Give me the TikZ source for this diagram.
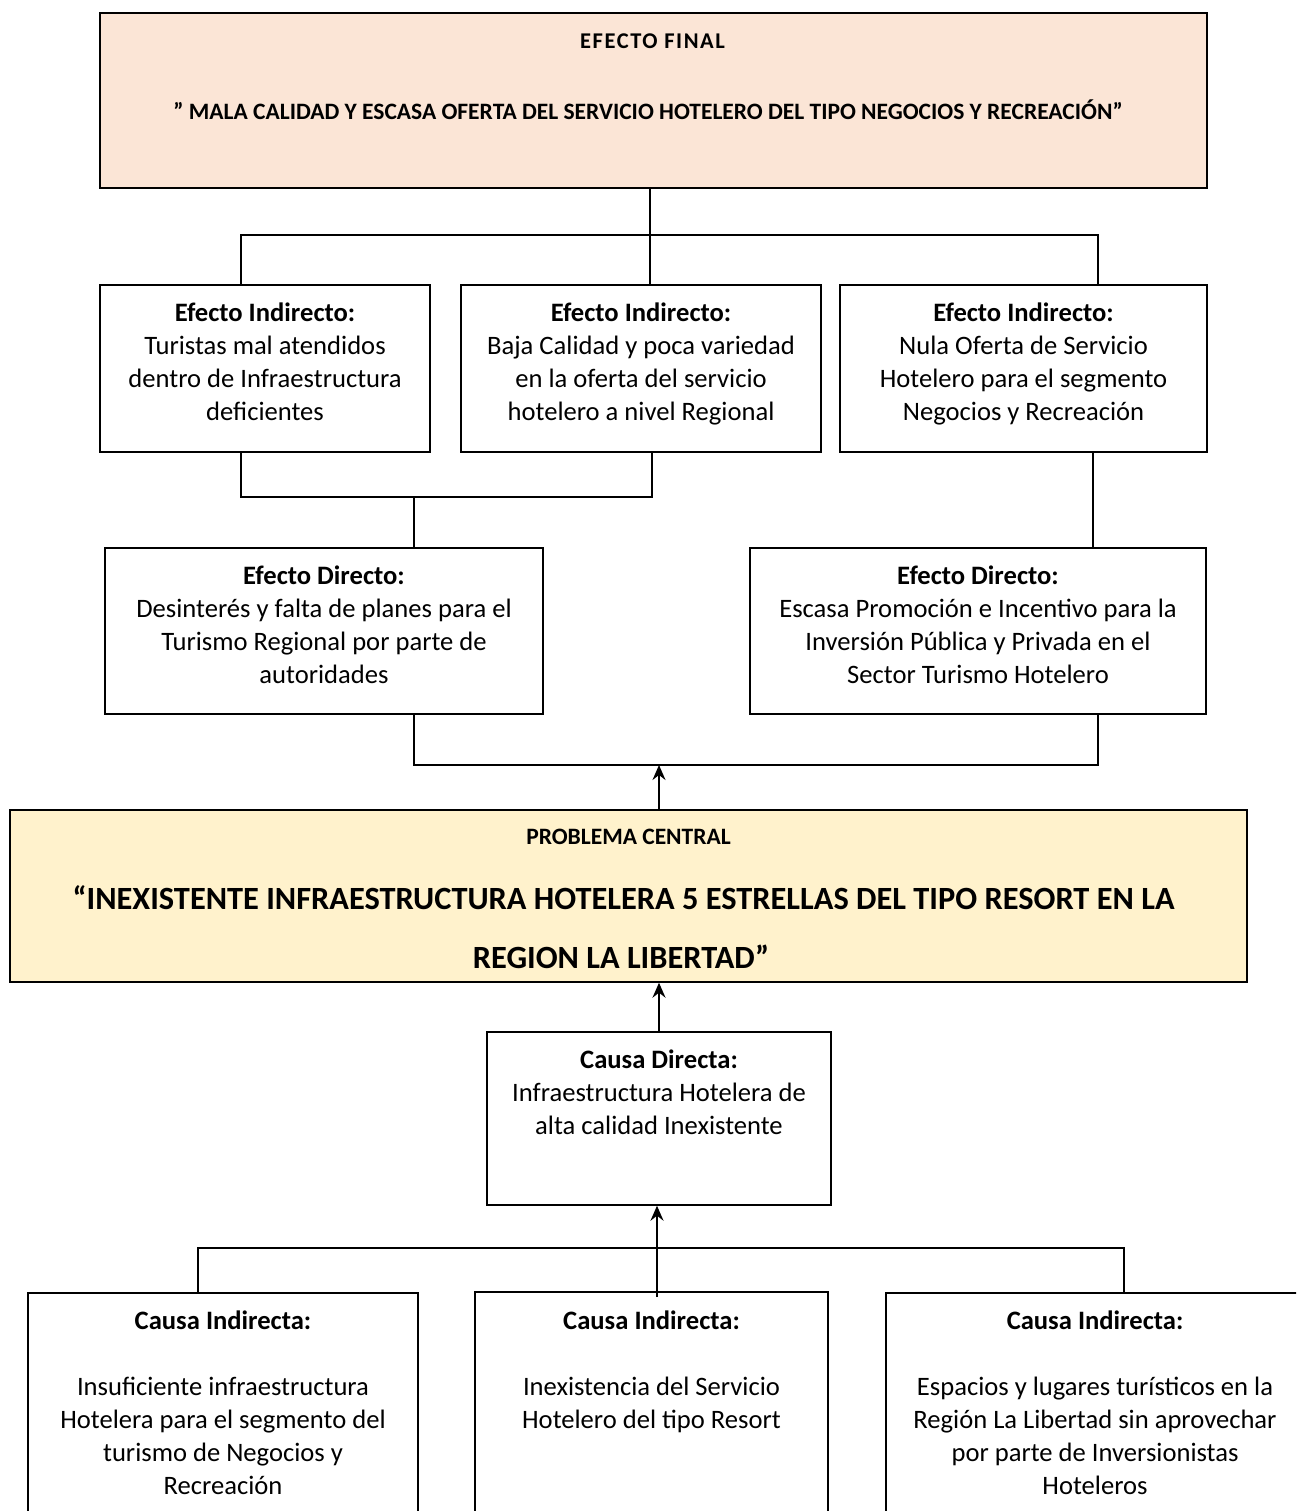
\documentclass[tikz,border=0pt]{standalone}
\usepackage{fontspec}
\setmainfont{Carlito}
\usetikzlibrary{arrows.meta}
\definecolor{peach}{HTML}{FBE5D6}
\definecolor{cream}{HTML}{FFF2CC}
\begin{document}
\begin{tikzpicture}[x=1pt,y=-1pt,
  box/.style={draw, line width=1.4pt, inner sep=0pt},
  body/.style={align=center, inner sep=0pt, anchor=north, font=\fontsize{26.6}{33}\selectfont},
  single/.style={inner sep=0pt, anchor=base},
  conn/.style={line width=1.3pt},
  arr/.style={line width=1.8pt, -{Stealth[length=15pt,width=13pt,inset=5pt]}}]
\useasboundingbox (0,0) rectangle (1296,1511);

% Efecto final
\node[box, fill=peach, line width=2pt, minimum width=1107pt, minimum height=175pt] (ef) at (653.5,100.5) {};
\node[single, font=\fontsize{22.5}{26}\selectfont\bfseries\addfontfeature{LetterSpace=7}] (eft1) at (652.5,49) {EFECTO FINAL};
\node[single, font=\fontsize{23.5}{28}\selectfont\bfseries] (eft2) at (648,120) {” MALA CALIDAD Y ESCASA OFERTA DEL SERVICIO HOTELERO DEL TIPO NEGOCIOS Y RECREACIÓN”};

% Efectos indirectos
\node[box, minimum width=330pt, minimum height=167pt] (ei1) at (265,368.5) {};
\node[body] (ei1t) at (265,297.9) {\strut\textbf{Efecto Indirecto:}\\Turistas mal atendidos\\dentro de Infraestructura\\deficientes};
\node[box, minimum width=360pt, minimum height=167pt] (ei2) at (641,368.5) {};
\node[body] (ei2t) at (641,297.9) {\strut\textbf{Efecto Indirecto:}\\Baja Calidad y poca variedad\\en la oferta del servicio\\hotelero a nivel Regional};
\node[box, minimum width=367pt, minimum height=167pt] (ei3) at (1023.5,368.5) {};
\node[body] (ei3t) at (1023.5,297.9) {\strut\textbf{Efecto Indirecto:}\\Nula Oferta de Servicio\\Hotelero para el segmento\\Negocios y Recreación};

% Efectos directos
\node[box, minimum width=438pt, minimum height=166pt] (ed1) at (324,631) {};
\node[body] (ed1t) at (324,560.9) {\strut\textbf{Efecto Directo:}\\Desinterés y falta de planes para el\\Turismo Regional por parte de\\autoridades};
\node[box, minimum width=456pt, minimum height=166pt] (ed2) at (978,631) {};
\node[body] (ed2t) at (978,560.9) {\strut\textbf{Efecto Directo:}\\Escasa Promoción e Incentivo para la\\Inversión Pública y Privada en el\\Sector Turismo Hotelero};

% Problema central
\node[box, fill=cream, minimum width=1237pt, minimum height=172pt] (pc) at (628.5,896) {};
\node[single, font=\fontsize{23.5}{28}\selectfont\bfseries] (pct1) at (628.5,844) {PROBLEMA CENTRAL};
\node[single, font=\fontsize{32.4}{38}\selectfont\bfseries] (pct2) at (623.5,909) {“INEXISTENTE INFRAESTRUCTURA HOTELERA 5 ESTRELLAS DEL TIPO RESORT EN LA};
\node[single, font=\fontsize{32.4}{38}\selectfont\bfseries] (pct3) at (621,968) {REGION LA LIBERTAD”};

% Causa directa
\node[box, minimum width=344pt, minimum height=173pt] (cd) at (659,1118.5) {};
\node[body] (cdt) at (659,1044.9) {\strut\textbf{Causa Directa:}\\Infraestructura Hotelera de\\alta calidad Inexistente};

% Causas indirectas (cut by the page edge)
\begin{scope}
\clip (0,0) rectangle (1296,1511);
\node[box, minimum width=390pt, minimum height=247pt] (ci1) at (223,1416.5) {};
\node[box, line width=2pt, minimum width=353pt, minimum height=247pt] (ci2) at (651.5,1415.5) {};
\node[box, minimum width=418pt, minimum height=247pt] (ci3) at (1095,1416.5) {};
\end{scope}
\node[body] (ci1t) at (223,1305.9) {\strut\textbf{Causa Indirecta:}\\[33pt]Insuficiente infraestructura\\Hotelera para el segmento del\\turismo de Negocios y\\Recreación};
\node[body] (ci2t) at (651.5,1305.9) {\strut\textbf{Causa Indirecta:}\\[33pt]Inexistencia del Servicio\\Hotelero del tipo Resort};
\node[body] (ci3t) at (1095,1305.9) {\strut\textbf{Causa Indirecta:}\\[33pt]Espacios y lugares turísticos en la\\Región La Libertad sin aprovechar\\por parte de Inversionistas\\Hoteleros};

% Connectors: top
\coordinate (jt) at (650,235);
\coordinate (jtl) at (241,235);
\coordinate (jtr) at (1098,235);
\draw[conn] (ef.south -| jt) -- (jt);
\draw[conn] (ei1.north -| jtl) -- (jtl) -- (jtr) -- (ei3.north -| jtr);
\draw[conn] (jt) -- (ei2.north -| jt);

% Connectors: middle
\coordinate (jm) at (414,497);
\coordinate (jml) at (241,497);
\coordinate (jmr) at (652,497);
\draw[conn] (ei1.south -| jml) -- (jml) -- (jmr) -- (ei2.south -| jmr);
\draw[conn] (jm) -- (ed1.north -| jm);
\coordinate (x3) at (1093,450);
\draw[conn] (ei3.south -| x3) -- (ed2.north -| x3);

% Connectors: to problema central
\coordinate (jd) at (659,765);
\coordinate (jdl) at (414,765);
\coordinate (jdr) at (1098,765);
\draw[conn] (ed1.south -| jdl) -- (jdl) -- (jdr) -- (ed2.south -| jdr);
\draw[arr] (pc.north -| jd) -- (jd);
\draw[arr] (cd.north) -- (cd.north |- pc.south);

% Connectors: bottom
\coordinate (jb) at (657,1248);
\coordinate (jbl) at (198,1248);
\coordinate (jbr) at (1124,1248);
\draw[conn] (ci1.north -| jbl) -- (jbl) -- (jbr) -- (ci3.north -| jbr);
\draw[arr] ([yshift=-6pt]ci2.north -| jb) -- (cd.south -| jb);
\end{tikzpicture}
\end{document}
